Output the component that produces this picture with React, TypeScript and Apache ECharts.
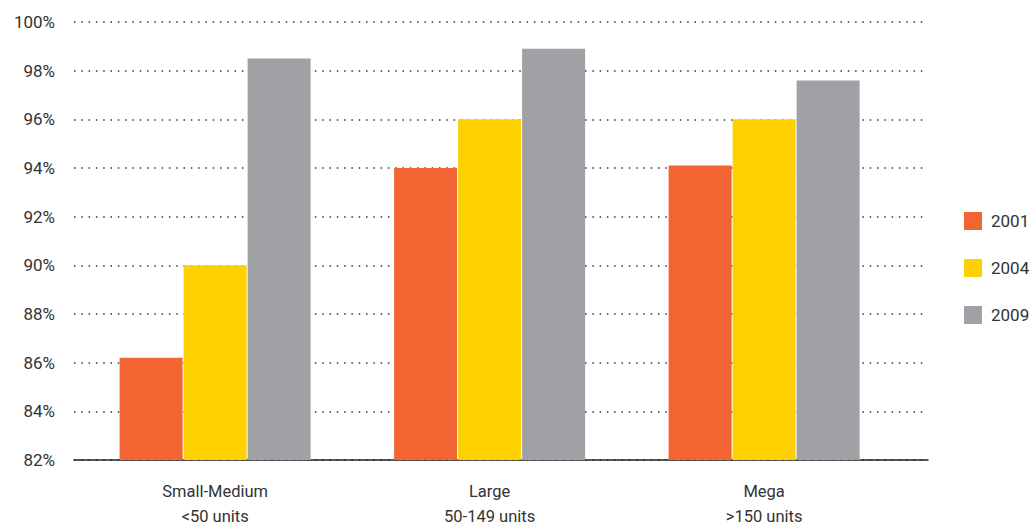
import React, { useEffect, useRef } from "react";
import * as echarts from "echarts";

const categories = ["Small-Medium\n<50 units", "Large\n50-149 units", "Mega\n>150 units"];
const categoryPositions = [0, 1, 2];
const years = ["2001", "2004", "2009"];
const values2001 = [86.2, 94.0, 94.1];
const values2004 = [90.0, 96.0, 96.0];
const values2009 = [98.5, 98.9, 97.6];
const colors = ["#F26532", "#FDD000", "#A0A1A5"];

const FONT = "'Roboto', 'Liberation Sans', sans-serif";

export default function App() {
  const ref = useRef<HTMLDivElement>(null);
  useEffect(() => {
    if (!ref.current) return;
    document.body.style.margin = "0";
    document.body.style.overflow = "hidden";
    const chart = echarts.init(ref.current, null, { renderer: "svg" });
    const seriesVals = [values2001, values2004, values2009];
    chart.setOption({
      animation: false,
      backgroundColor: "#ffffff",
      textStyle: { fontFamily: FONT, color: "#333" },
      grid: { left: 74, right: 107, top: 22, bottom: 68, containLabel: false, outerBoundsMode: "none" },
      legend: {
        orient: "vertical",
        left: 959,
        top: 207,
        itemWidth: 18,
        itemHeight: 18,
        itemGap: 29,
        icon: "rect",
        textStyle: { fontFamily: FONT, fontSize: 17, color: "#333", padding: [0, 0, 0, 4] },
        data: years,
      },
      xAxis: {
        type: "value",
        min: -0.514,
        max: 2.597,
        splitLine: { show: false },
        axisTick: { show: false },
        axisLine: { show: true, onZero: false, lineStyle: { color: "#222", width: 1.5 } },
        axisLabel: {
          customValues: categoryPositions,
          margin: 19,
          fontFamily: FONT,
          fontSize: 16.5,
          lineHeight: 25,
          color: "#333",
          formatter: (v: number) => {
            const i = Math.round(v);
            return i >= 0 && i < categories.length ? categories[i] : "";
          },
        },
      },
      yAxis: {
        type: "value",
        min: 82,
        max: 100,
        interval: 2,
        axisLine: { show: false },
        axisTick: { show: false },
        axisLabel: {
          margin: 19,
          fontFamily: FONT,
          fontSize: 17,
          color: "#333",
          formatter: (v: number) => v + "%",
        },
        splitLine: {
          show: true,
          lineStyle: { color: "#333", width: 1.5, type: [1.5, 5.8] },
        },
      },
      series: years.map((y, i) => ({
        name: y,
        type: "bar",
        barWidth: 63,
        barGap: "1.6%",
        itemStyle: { color: colors[i] },
        data: seriesVals[i].map((v, j) => [categoryPositions[j], v]),
      })),
    });
    return () => chart.dispose();
  }, []);
  return (
    <div
      ref={ref}
      style={{ position: "fixed", left: 0, top: 0, width: 1035, height: 528 }}
    />
  );
}
